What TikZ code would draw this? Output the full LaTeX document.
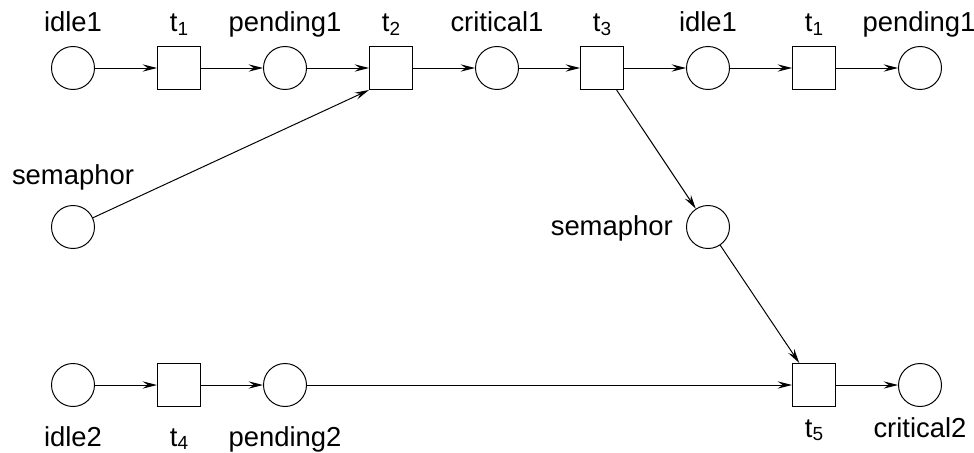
\documentclass[tikz,border=0pt]{standalone}
\usepackage{fontspec}
\setmainfont{Liberation Sans}
\usetikzlibrary{arrows.meta}
\newcommand{\tsub}[1]{t\raisebox{-2.2pt}{\fontsize{13.5}{14}\selectfont#1}}
\tikzset{
  place/.style ={draw, circle, line width=0.7pt, minimum size=1.075cm, inner sep=0pt},
  trans/.style ={draw, rectangle, line width=0.7pt, minimum size=1.075cm, inner sep=0pt},
  arc/.style   ={-{Stealth[length=3.6mm, width=1.8mm, inset=1.3mm]}, line width=0.7pt},
  lab/.style   ={anchor=base, inner sep=0pt, font=\fontsize{19.5}{22}\selectfont},
}

\begin{document}
\begin{tikzpicture}[x=0.025cm, y=-0.025cm]
  \useasboundingbox (0,0) rectangle (974,453);

  % ---- process 1: idle -> pending -> critical -> idle ----
  \node[place] (i1)  at (73,68)  {};
  \node[trans] (t1)  at (179,68) {};
  \node[place] (p1)  at (285,68) {};
  \node[trans] (t2)  at (391,68) {};
  \node[place] (c1)  at (497,68) {};
  \node[trans] (t3)  at (602,68) {};
  \node[place] (i1b) at (708,68) {};
  \node[trans] (t1b) at (814,68) {};
  \node[place] (p1b) at (920,68) {};

  \node[lab] (li1)  at (73,32)  {idle1};
  \node[lab] (lt1)  at (179,32) {\tsub{1}};
  \node[lab] (lp1)  at (285,32) {pending1};
  \node[lab] (lt2)  at (391,32) {\tsub{2}};
  \node[lab] (lc1)  at (497,32) {critical1};
  \node[lab] (lt3)  at (602,32) {\tsub{3}};
  \node[lab] (li1b) at (708,32) {idle1};
  \node[lab] (lt1b) at (814,32) {\tsub{1}};
  \node[lab] (lp1b) at (919,32) {pending1};

  \draw[arc] (i1) -- (t1);
  \draw[arc] (t1) -- (p1);
  \draw[arc] (p1) -- (t2);
  \draw[arc] (t2) -- (c1);
  \draw[arc] (c1) -- (t3);
  \draw[arc] (t3) -- (i1b);
  \draw[arc] (i1b) -- (t1b);
  \draw[arc] (t1b) -- (p1b);

  % ---- process 2 ----
  \node[place] (i2) at (73,385)  {};
  \node[trans] (t4) at (179,385) {};
  \node[place] (p2) at (285,385) {};
  \node[trans] (t5) at (814,385) {};
  \node[place] (c2) at (920,385) {};

  \node[lab] (li2) at (73,446)  {idle2};
  \node[lab] (lt4) at (179,446) {\tsub{4}};
  \node[lab] (lp2) at (285,446) {pending2};
  \node[lab] (lt5) at (814,437) {\tsub{5}};
  \node[lab] (lc2) at (920,437) {critical2};

  \draw[arc] (i2) -- (t4);
  \draw[arc] (t4) -- (p2);
  \draw[arc] (p2) -- (t5);
  \draw[arc] (t5) -- (c2);

  % ---- semaphor, before and after t3 ----
  \node[place] (s1) at (73,227)  {};
  \node[place] (s2) at (708,227) {};
  \node[lab] (ls1) at (73,184) {semaphor};
  \node[lab, anchor=base east] (ls2) at (673,235) {semaphor};

  \draw[arc] (s1) -- (t2.south west);
  \draw[arc] (t3) -- (s2);
  \draw[arc] (s2) -- (t5);
\end{tikzpicture}
\end{document}
